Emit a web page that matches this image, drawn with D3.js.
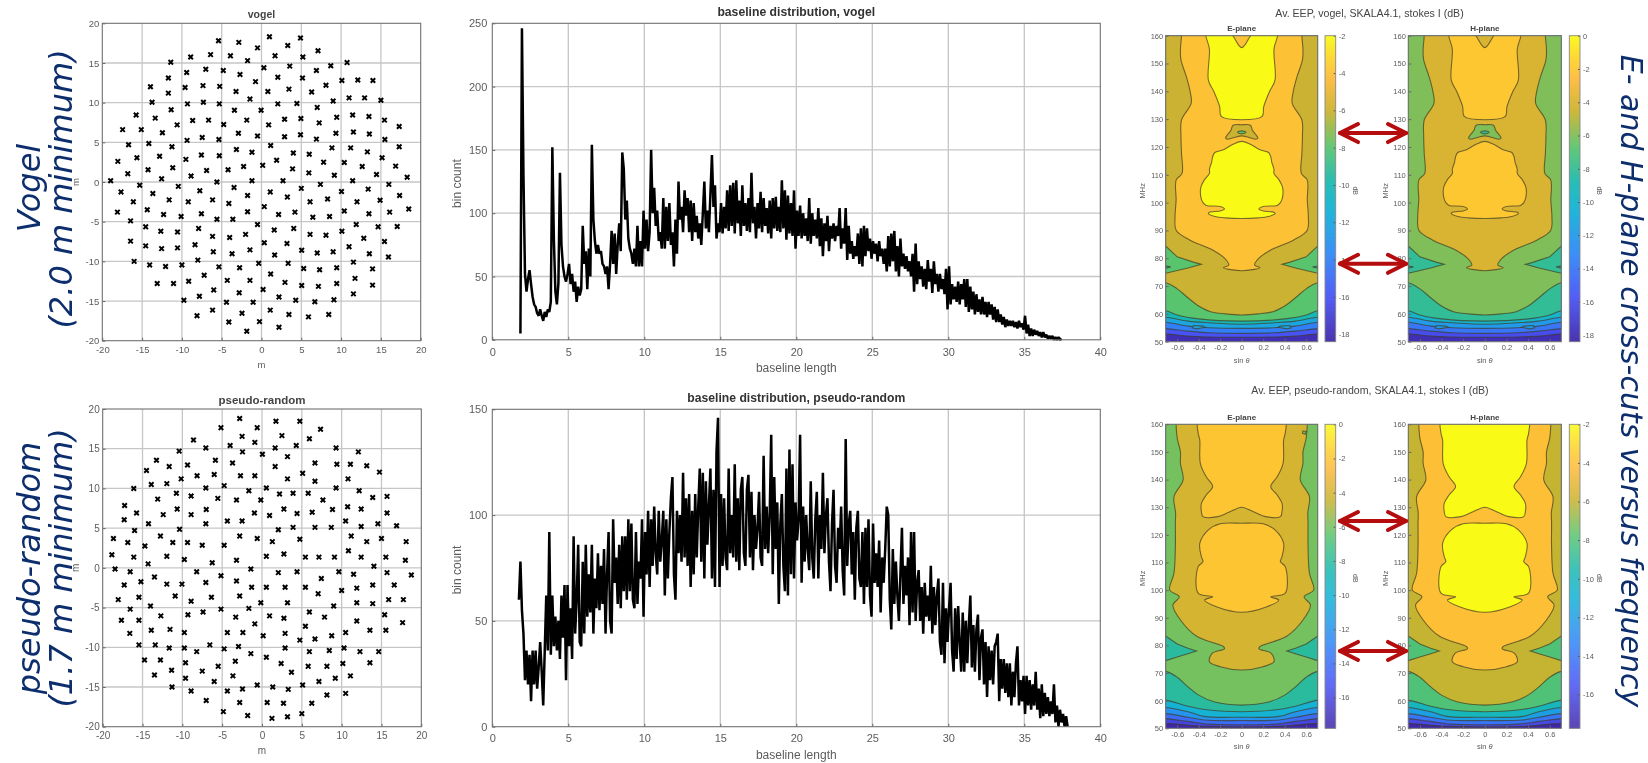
<!DOCTYPE html>
<html><head><meta charset="utf-8">
<script src="https://cdn.jsdelivr.net/npm/d3@7/dist/d3.min.js"></script>
<style>html,body{margin:0;padding:0;background:#fff;overflow:hidden}svg{display:block}</style>
</head><body><svg id="c" width="1648" height="763"></svg>
<script>
// ---------- antenna positions (m) ----------
const vogelPositions=[[1,18.3],[4.9,18.15],[-5.4,17.8],[-2.85,17.6],[3.3,17.2],[-0.5,16.9],[7.1,16.55],[-6.4,16.05],[-3.9,15.9],[-8.9,15.75],[1.7,15.9],[5.2,15.75],[-11.4,15.1],[-1.75,15.3],[10.75,15.05],[8.7,14.65],[3.55,14.6],[0.3,14.4],[-7,14.2],[-4.8,14.05],[6.9,14.05],[-9.4,13.8],[-2.7,13.55],[-11.7,13.1],[2.05,13.2],[5.15,13.1],[10.1,12.8],[12.1,12.85],[14,12.8],[-0.75,12.65],[8.1,12.2],[-7.35,12.15],[-5.25,12.05],[-13.95,12],[-9.6,11.9],[3.45,11.7],[0.8,11.4],[-3.2,11.4],[6.3,11.35],[-11.7,11.2],[11,10.6],[12.95,10.6],[-1.45,10.45],[15,10.3],[9,10.2],[-13.75,10.05],[-7.3,10.05],[4.45,9.9],[-9.3,9.85],[-5.3,9.85],[2.05,9.85],[7,9.4],[-11.35,9.1],[-0.05,9.05],[-3.4,9.05],[-15.75,8.45],[11.45,8.45],[9.45,8.15],[13.5,8.25],[-13.35,8.05],[2.9,7.9],[4.95,8],[-6.65,7.8],[-1.85,7.8],[-8.65,7.75],[15.45,7.8],[7.25,7.45],[-4.75,7.25],[0.9,7.2],[-10.6,7.2],[17.3,7],[-17.45,6.6],[-15.1,6.6],[-12.45,6.2],[11.55,6.3],[9.35,6.15],[-2.9,6.15],[13.55,6.05],[4.9,5.95],[2.9,5.7],[-0.5,5.8],[-7.45,5.6],[6.9,5.4],[-5.35,5.35],[-9.35,5.25],[15.5,5.35],[-16.7,4.7],[-14.15,4.85],[1.15,4.6],[-11.25,4.45],[17.3,4.45],[11.2,4.3],[8.85,4.3],[-3.15,4.1],[-1.2,3.75],[13.3,3.8],[4,3.65],[6,3.5],[-7.55,3.4],[-5.3,3.3],[-12.8,3.25],[-15.65,3.05],[15.15,3.05],[-9.5,2.85],[1.9,2.75],[-18.05,2.6],[7.8,2.5],[10.4,2.45],[0.15,2.1],[-2.25,1.95],[16.85,2],[12.65,1.95],[-11.15,1.8],[-14.25,1.55],[-4.2,1.55],[3.9,1.65],[-6.9,1.45],[5.95,1.15],[14.45,0.95],[-16.8,1.05],[9.15,0.85],[-8.85,0.75],[18.3,0.6],[-12.55,0.4],[2.7,0.15],[-1.2,0.15],[11.45,0.15],[-18.95,0.15],[-5.6,0],[7.4,-0.3],[-15.3,-0.4],[16,-0.3],[-10.45,-0.55],[-3.45,-0.7],[5,-0.8],[13.4,-0.9],[-7.75,-1.1],[10.05,-1.2],[-17.65,-1.25],[1.1,-1.25],[-13.65,-1.45],[-1.75,-1.7],[17.35,-1.7],[3.25,-1.9],[8.3,-2.15],[-11.6,-2.25],[-6.15,-2.25],[14.9,-2.3],[-16.1,-2.5],[-9.2,-2.5],[-4.1,-2.7],[6.1,-2.5],[12,-2.5],[0.35,-3.1],[18.5,-3.4],[-14.35,-3.5],[10.4,-3.65],[-18.1,-3.8],[-7.55,-4],[-1.75,-3.75],[16.1,-3.8],[13.5,-4],[4.2,-3.8],[-12.3,-4.1],[2.15,-4.1],[-10.1,-4.35],[6.45,-4.45],[8.55,-4.35],[-5.6,-4.7],[-3.6,-4.7],[-16.45,-4.9],[-0.5,-5.35],[11.9,-5.35],[-14.55,-5.65],[14.65,-5.65],[17.05,-5.6],[4.05,-5.85],[-7.9,-5.85],[1.6,-6.05],[-12.65,-6.2],[-10.55,-6.3],[10.1,-6.2],[-2,-6.6],[6.1,-6.6],[8.1,-6.7],[-6.15,-6.85],[-4,-7],[12.85,-7.1],[-16.45,-7.45],[15.45,-7.5],[0.35,-7.65],[3.2,-7.75],[-8.35,-7.9],[-14.55,-8.05],[11,-8.15],[-10.55,-8.3],[-12.55,-8.4],[-6.05,-8.8],[-1.45,-8.55],[5.05,-8.6],[9,-8.8],[-3.7,-9.05],[7,-8.95],[13.55,-9.05],[1.65,-9.2],[15.95,-9.45],[-8,-9.85],[-16,-10],[11.55,-10.1],[3.35,-10.25],[-0.35,-10.25],[-14.05,-10.45],[-10,-10.45],[-12.05,-10.65],[-5.35,-10.7],[-2.75,-10.8],[9.45,-10.8],[5.3,-10.9],[13.95,-10.95],[7.3,-11.05],[1.15,-11.6],[-7.2,-11.75],[11.75,-12.15],[-4.3,-12.4],[-1.45,-12.4],[-9.15,-12.5],[2.95,-12.65],[9.45,-12.8],[-13.1,-12.8],[-11.05,-12.8],[13.95,-13],[5.05,-13.05],[7.15,-13.15],[0.2,-13.55],[-6,-13.6],[-2.8,-13.95],[11.55,-14.1],[-7.8,-14.4],[2.2,-14.5],[4.3,-14.9],[9.1,-14.85],[-9.75,-14.9],[-4.4,-15.15],[-1.05,-15.15],[6.7,-15.1],[1.1,-16.15],[-6.15,-16.15],[-2.45,-16.55],[-8.1,-16.85],[3.45,-16.7],[8.45,-16.7],[5.9,-17],[-4.1,-17.65],[-0.25,-17.6],[2.2,-18.3],[-1.85,-18.8]];
const pseudoPositions=[[-2.8,18.8],[1.75,18.45],[4.75,18.45],[-5.15,17.65],[-0.6,17.65],[7.35,17.45],[-2.5,16.55],[2.5,16.65],[-8.6,16.1],[5.95,16.25],[-0.9,15.8],[-4,15.4],[4.3,15.4],[-7.05,15.1],[1.65,15.1],[9.3,15.1],[-10.4,14.7],[12.1,14.6],[-2.45,14.6],[0.05,14.3],[3.2,14],[-5.85,13.55],[-13.25,13.55],[-3.7,13.2],[6.65,13.2],[9.4,13.05],[11.1,13.05],[-9.35,12.95],[-11.65,12.75],[1.65,12.75],[13.15,12.85],[-14.5,12.25],[14.75,12.05],[5.1,11.9],[-6,11.75],[-8.15,11.6],[-2.7,11.6],[-0.9,11.6],[-10.15,11.2],[3.2,11.2],[10.8,11.2],[6.65,10.9],[-11.95,10.6],[-13.9,10.5],[-4.75,10.35],[-16.1,10],[-7.05,10.05],[0.55,10.05],[9.3,10.05],[-1.65,9.7],[12.2,9.7],[-10.75,9.4],[2.2,9.3],[3.9,9.4],[5.8,9.4],[-8.9,9.05],[15.7,9],[13.9,8.85],[-5.55,8.75],[-13.1,8.65],[-3.2,8.55],[-0.15,8.55],[7.65,8.55],[-17.25,7.85],[10.75,7.7],[2.75,7.4],[-10.65,7.4],[-7,7.35],[12.45,7.4],[8.85,7.35],[-15.75,6.9],[-0.95,6.9],[6.3,7],[15.7,6.9],[4.4,6.85],[-12.4,6.7],[-8.9,6.7],[0.95,6.6],[-17.3,6.05],[-4.35,5.9],[-2.5,5.9],[10.5,5.9],[-14.25,5.55],[-7.05,5.55],[14.55,5.55],[16.9,5.3],[6.65,5.1],[8.7,5.1],[3.9,5.1],[12.45,5.2],[-10.35,4.85],[2.05,4.8],[-16,4.7],[-2.8,4],[-12.75,4],[11.2,4],[-18.65,3.7],[-0.6,3.7],[15,3.7],[4.75,3.6],[-11.2,3.2],[-16.85,3.2],[-9.35,3.2],[1.3,3.3],[13.15,3.3],[18.1,3.3],[-7.5,2.85],[-14.7,2.75],[-4.75,2.85],[10.85,2.15],[-18.85,1.65],[2.75,1.75],[-11.95,1.45],[0.55,1.45],[-16.1,1.35],[5.45,1.35],[7.15,1.35],[9.1,1.35],[12.45,1.35],[15.55,1.35],[-9.75,1.05],[-3.2,0.95],[18,0.95],[-6.25,0.65],[-14.3,0.5],[14.05,0.2],[-18.45,-0.15],[-1.4,-0.15],[-16.55,-0.5],[-8.2,-0.5],[2.05,-0.6],[4.4,-0.5],[9.65,-0.5],[15.7,-0.6],[18.75,-0.9],[11.5,-0.8],[-5.15,-1],[-13.5,-1.15],[7.45,-1.35],[-3.2,-1.65],[-15.2,-1.75],[-7.05,-1.85],[-11.95,-2.05],[-10.05,-2.05],[-17.3,-2.15],[13.9,-2.15],[16.6,-2.15],[-1.3,-2.45],[0.55,-2.45],[2.9,-2.45],[5.45,-2.45],[11.9,-2.55],[10,-2.85],[7.05,-3.25],[-2.8,-3.55],[-10.9,-3.55],[-15.45,-3.7],[-6.35,-3.7],[15.9,-4],[17.75,-4],[-18.05,-4],[-8.9,-4.2],[-0.15,-4.4],[3.2,-4.4],[11.9,-4.4],[13.9,-4.5],[9,-4.8],[-14,-4.8],[-1.65,-5.1],[-5.15,-5.2],[-16.55,-5.2],[-7.4,-5.55],[5.95,-5.55],[7.85,-6.2],[-9.3,-5.9],[-12.7,-6.05],[0.95,-6.05],[15.4,-5.9],[-3.3,-6.2],[2.75,-6.35],[-17.65,-6.6],[-15.45,-6.6],[11.9,-6.7],[17.65,-6.9],[-0.9,-7.05],[5.45,-7.35],[-11.55,-7.75],[-13.9,-7.85],[13.55,-7.85],[15.55,-7.85],[-4.35,-8.15],[-2.4,-8.15],[-9.75,-8.15],[2.9,-8.25],[10.5,-8.15],[-16.6,-8.25],[0.15,-8.55],[8.75,-8.55],[6.65,-8.95],[4.75,-9.1],[-15.45,-9.7],[-13.4,-9.7],[-6.55,-9.7],[-2.95,-9.9],[-4.75,-10.2],[-11.65,-10.1],[-9.75,-10.1],[2.9,-10.1],[10.3,-10.1],[-8.2,-10.55],[5.95,-10.55],[8.45,-10.4],[12.3,-10.55],[14.65,-10.55],[-1.4,-10.8],[0.55,-11.25],[-14.75,-11.6],[-12.75,-11.6],[-3.35,-11.75],[-9.6,-11.95],[13.55,-11.95],[2.4,-12.05],[10.15,-12.05],[-5.5,-12.4],[5.8,-12.4],[8.15,-12.4],[-11.35,-12.9],[-7.5,-13],[3.7,-13.15],[-13.5,-13.5],[-3.65,-13.6],[11.1,-13.6],[-9.6,-13.9],[9.2,-13.9],[-6,-14.3],[7.15,-14.3],[-0.6,-14.75],[5.1,-14.75],[1.35,-15],[-11.3,-15],[-2.45,-15.25],[3.3,-15.3],[-8.9,-15.5],[-4.35,-15.5],[8.15,-16],[10.5,-15.8],[-7,-16.7],[-2.8,-16.95],[0.65,-16.95],[2.7,-17.05],[6.25,-17.05],[-4.85,-18.1],[5,-18.35],[-1.8,-18.6],[3.2,-18.75],[1.25,-18.95]];

// ---------- baseline histograms: bin counts, one per 0.1 m bin ----------
const vogelFirstBin=1.85;
const vogelCounts=[5,246,130,52,38,48,55,44,34,28,26,21,19,24,19,15,22,18,24,22,30,152,80,38,28,45,132,75,58,50,46,52,60,44,52,38,46,30,42,35,40,90,60,70,40,72,50,154,95,78,68,75,68,70,60,58,52,58,40,60,86,60,84,52,75,92,70,148,135,95,110,80,72,68,60,72,58,90,58,78,58,102,72,95,70,85,150,100,120,90,102,78,85,72,112,72,105,78,108,75,85,58,95,68,125,95,105,85,118,98,112,85,110,78,108,85,98,80,92,75,100,125,88,102,85,115,146,105,122,80,
92,85,108,84,105,88,118,86,122,90,124,84,126,92,110,82,122,90,108,86,112,85,132,92,105,80,108,88,117,85,112,90,104,84,110,80,112,88,113,86,105,85,126,88,118,79,114,84,108,82,118,72,102,82,106,80,100,82,96,78,112,76,100,82,95,80,104,74,96,66,92,78,98,70,90,80,92,78,90,82,104,72,88,76,104,63,90,68,78,64,74,66,84,60,88,58,90,66,88,70,80,64,78,68,76,62,78,66,72,60,72,54,82,58,84,62,86,54,74,50,80,58,68,56,66,54,62,50,68,38,76,44,62,48,58,42,56,40,63,46,56,37,62,44,52,38,52,40,48,36,56,24,58,28,44,32,42,30,46,28,44,32,48,26,48,22,42,24,38,20,36,22,32,20,34,20,30,18,30,20,28,16,26,14,24,14,20,12,18,10,16,11,15,11,15,10,14,9,15,10,13,8,19,5,12,3,9,3,8,4,7,3,6,2,6,2,4,1,3,1,3,0,2,0,2,0,1];
const pseudoFirstBin=1.75;
const pseudoCounts=[60,78,55,44,22,36,20,34,12,36,20,36,18,28,40,26,10,36,62,36,92,34,62,38,52,36,50,32,62,42,67,22,67,38,56,32,90,44,60,86,40,38,78,44,86,52,72,54,86,44,70,56,82,55,76,58,84,44,72,92,50,44,98,68,80,58,86,56,90,64,90,60,98,64,96,60,56,92,58,78,70,98,52,92,72,102,66,98,76,104,82,72,102,78,88,102,62,98,70,92,108,118,72,60,102,82,100,78,120,80,108,76,110,66,102,72,110,80,104,122,78,120,70,116,86,104,122,70,112,66,130,146,66,
110,76,108,80,74,122,82,100,80,124,78,108,74,112,118,82,76,112,119,80,111,74,100,84,94,111,80,76,128,84,104,82,100,138,72,118,84,106,58,96,110,76,64,122,62,131,72,124,70,106,88,98,138,68,104,78,100,84,74,116,80,70,98,111,70,100,84,120,82,100,108,78,64,96,112,76,68,94,84,104,74,62,136,76,96,102,72,92,60,94,102,70,66,92,58,94,66,98,62,52,96,68,82,66,88,54,80,68,84,104,100,60,46,84,58,78,62,50,72,94,58,76,62,80,48,92,54,92,50,68,74,50,66,44,68,52,62,50,76,44,66,48,62,70,40,34,68,30,56,40,56,68,36,26,56,32,57,40,26,54,26,50,30,48,62,28,48,26,46,53,22,42,46,20,40,14,38,22,36,20,38,40,44,12,32,18,32,16,30,14,30,10,26,14,30,38,10,22,12,24,6,24,10,22,8,20,10,26,8,18,4,20,5,16,6,14,5,12,6,20,2,10,0,8,2,6,0,5,0];

// ---------- EEP contour outlines: [sin theta, MHz], right half, mirrored about sin theta = 0 ----------
const vogelBands=[
 {db:-16,edge:[[0.707,52.8],[0.5,52],[0.3,51.7],[0,51.6]]},
 {db:-14,edge:[[0.707,54.7],[0.5,53.8],[0.3,53.2],[0,53]]},
 {db:-12,edge:[[0.707,57],[0.5,55.6],[0.3,55],[0,54.8]]},
 {db:-10,edge:[[0.707,58.8],[0.5,57.4],[0.3,56.8],[0,56.3]]},
 {db:-8,edge:[[0.707,61.1],[0.6,59.6],[0.4,58.2],[0,57.4]]},
 {db:-6,edge:[[0.707,71.2],[0.6,69],[0.5,65.8],[0.415,63.2],[0.29,60.8],[0.15,60],[0,59.6]]}];
const vogelSideIslands=[
 {db:-8,ring:[[0.75,84.6],[0.707,84.4],[0.6,80.5],[0.45,78.6],[0.375,77.8],[0.5,76.5],[0.707,74.6],[0.75,74.4]]},
 {db:-10,ring:[[0.72,77.3],[0.66,76.9],[0.72,76.3]]},
 {db:-12,ring:[[0.45,55.8],[0.36,55.6],[0.34,55.2],[0.42,54.6],[0.46,55]]}];
const vogelCore=[
 {db:-4,half:[[0,166],[0.56,166],[0.56,160],[0.57,155],[0.565,151.3],[0.515,145.3],[0.48,140],[0.47,135.7],[0.56,129.7],[0.565,124],[0.56,117.7],[0.555,110.5],[0.61,108.1],[0.61,100.9],[0.62,95],[0.61,90.1],[0.48,86.5],[0.27,83],[0.16,80],[0.12,77.5],[0.17,76.6],[0.1,75.9],[0,75.5]]},
 {db:-2,half:[[0,155.7],[0.12,161.5],[0.33,161.5],[0.3,155],[0.31,144],[0.26,140],[0.205,134.5],[0.19,131],[0,129.8]]},
 {db:-2,half:[[0,122],[0.08,121],[0.17,119],[0.25,118],[0.27,116.5],[0.28,114.5],[0.3,112],[0.3,110.5],[0.35,108],[0.38,105.5],[0.38,102],[0.36,100],[0.33,99],[0.2,98.6],[0.16,97.7],[0.2,97],[0.3,96.5],[0.31,96],[0.25,95],[0.15,94.5],[0,94.3]]},
 {db:-6,half:[[0,128],[0.08,127.8],[0.1,126],[0.15,123.2],[0.13,122.8],[0,124]]},
 {db:-8,half:[[0,125.8],[0.04,125.3],[0,124.7]]}];
const pseudoBands=[
 {db:-16,edge:[[0.707,51.8],[0.4,50.8],[0,50.5]]},
 {db:-14,edge:[[0.707,53.5],[0.5,52.5],[0.3,51.5],[0,51.3]]},
 {db:-12,edge:[[0.707,55.3],[0.5,54],[0.35,53],[0,52.8]]},
 {db:-10,edge:[[0.707,57.5],[0.5,56],[0.35,54.3],[0,54]]},
 {db:-8,edge:[[0.707,60.2],[0.5,58],[0.3,56.6],[0,56]]},
 {db:-6,edge:[[0.707,70.6],[0.6,68.5],[0.5,65],[0.4,62],[0.25,59.5],[0,58.4]]}];
const pseudoSideIslands=[
 {db:-8,ring:[[0.75,83.6],[0.707,83.4],[0.6,80.5],[0.5,79],[0.42,78],[0.5,77],[0.6,75.8],[0.707,74.5],[0.75,74.3]]}];
const pseudoCore=[
 {db:-4,half:[[0,166],[0.61,166],[0.61,160],[0.6,155],[0.57,150],[0.57,145.9],[0.545,139.9],[0.63,133.8],[0.615,128],[0.617,124.2],[0.617,115.7],[0.63,106.1],[0.67,100.1],[0.58,97.6],[0.64,94.6],[0.57,89.2],[0.415,83.2],[0.17,79.6],[0.16,78.8],[0.275,77.1],[0.3,74.1],[0.2,72.3],[0,71.1]]},
 {db:-2,half:[[0,130],[0.1,128.5],[0.14,127.8],[0.22,126.6],[0.36,126.6],[0.375,128.4],[0.375,131.4],[0.33,134.4],[0.27,137.5],[0.33,141],[0.385,145.9],[0.39,154.3],[0.405,156.8],[0.4,162],[0,162]]},
 {db:-2,half:[[0,124.2],[0.2,124],[0.31,121.8],[0.39,116.9],[0.375,112.1],[0.36,110.3],[0.405,108.5],[0.405,98.9],[0.27,97.6],[0.345,96.4],[0.235,94],[0,92]]}];
const pseudoSpecks=[{db:-6,ring:[[0.57,157.6],[0.6,157.4],[0.59,156.4],[0.565,156.8]]}];

// ---------- labels and axis values ----------
const scatterTicks=[-20,-15,-10,-5,0,5,10,15,20];
const baselineXTicks=[0,5,10,15,20,25,30,35,40];
const vogelCountTicks=[0,50,100,150,200,250];
const pseudoCountTicks=[0,50,100,150];
const sinTicks=[-0.6,-0.4,-0.2,0,0.2,0.4,0.6];
const mhzTicks=[50,60,70,80,90,100,110,120,130,140,150,160];
const arrowMHz=[125,78];
const parulaT=[0,0.143,0.286,0.43,0.52,0.634,0.75,0.857,0.93,1];
const parula=["#3e26a8","#4852f4","#2e87f7","#12b1d6","#1ab8b0","#58c46e","#c9b22f","#fdb93a","#fdd62a","#f9fb15"];

const svg=d3.select("#c");
const defs=svg.append("defs");
defs.append("filter").attr("id","soft").attr("x","0").attr("y","0").attr("width","100%").attr("height","100%")
  .attr("filterUnits","userSpaceOnUse").append("feGaussianBlur").attr("stdDeviation",0.45);
const root=svg.append("g").attr("filter","url(#soft)");
root.append("rect").attr("width",1648).attr("height",763).attr("fill","#fff");
const FONT="'Liberation Sans',Arial,sans-serif", GREY="#5c5c5c";
let clipId=0;

function frameAxes(g,x,y,xt,yt,gridC){
  const [x0,x1]=x.range(),[y1,y0]=y.range();
  g.append("g").selectAll("line").data(xt.slice(1,-1)).join("line").attr("x1",d=>x(d)).attr("x2",d=>x(d)).attr("y1",y0).attr("y2",y1).attr("stroke",gridC).attr("stroke-width",1.3);
  g.append("g").selectAll("line").data(yt.slice(1,-1)).join("line").attr("x1",x0).attr("x2",x1).attr("y1",d=>y(d)).attr("y2",d=>y(d)).attr("stroke",gridC).attr("stroke-width",1.3);
}
function finishAxes(g,x,y,xt,yt,fs,xpad,ypad){
  const [x0,x1]=x.range(),[y1,y0]=y.range();
  const ax=g.append("g").attr("transform",`translate(0,${y1})`).call(d3.axisBottom(x).tickValues(xt).tickSize(-3).tickPadding(xpad).tickFormat(d=>String(d)));
  const ay=g.append("g").attr("transform",`translate(${x0},0)`).call(d3.axisLeft(y).tickValues(yt).tickSize(-3).tickPadding(ypad).tickFormat(d=>String(d)));
  [ax,ay].forEach(a=>{a.select(".domain").remove();a.selectAll("line").attr("stroke","#666");a.selectAll("text").attr("fill",GREY).attr("font-size",fs).attr("font-family",FONT);});
  g.append("rect").attr("x",x0).attr("y",y0).attr("width",x1-x0).attr("height",y1-y0).attr("fill","none").attr("stroke","#707070").attr("stroke-width",1.1);
}
function label(g,t,x,y,fs,opt={}){
  return g.append("text").attr("x",x).attr("y",y).attr("text-anchor","middle").attr("dominant-baseline","middle")
    .attr("font-family",FONT).attr("font-size",fs).attr("fill",opt.fill||GREY).attr("font-weight",opt.bold?"bold":null)
    .attr("transform",opt.rot?`rotate(${opt.rot} ${x} ${y})`:null).text(t);
}

function scatterPanel(pts,title,box,tickFs,titleFs){
  const g=root.append("g");
  const x=d3.scaleLinear([-20,20],[box.x0,box.x1]),y=d3.scaleLinear([-20,20],[box.y1,box.y0]);
  frameAxes(g,x,y,scatterTicks,scatterTicks,"#c6c6c6");
  const sym=d3.symbol(d3.symbolX,15);
  g.append("g").selectAll("path").data(pts).join("path").attr("d",sym)
    .attr("transform",d=>`translate(${x(d[0])},${y(d[1])})`).attr("stroke","#000").attr("stroke-width",2).attr("fill","none");
  finishAxes(g,x,y,scatterTicks,scatterTicks,tickFs,5.5,3);
  label(g,title,(box.x0+box.x1)/2,box.y0-8.5,titleFs,{bold:true,fill:"#444"});
  label(g,"m",(box.x0+box.x1)/2,box.y1+24.5,tickFs);
  label(g,"m",box.x0-26,(box.y0+box.y1)/2,tickFs,{rot:-90});
}
function baselinePanel(counts,first,title,yTicks,yMax,box){
  const g=root.append("g");
  const x=d3.scaleLinear([0,40],[box.x0,box.x1]),y=d3.scaleLinear([0,yMax],[box.y1,box.y0]);
  frameAxes(g,x,y,baselineXTicks,yTicks,"#c6c6c6");
  const line=d3.line().x((d,i)=>x(first+i*0.1)).y(d=>y(d));
  g.append("path").datum(counts).attr("d",line).attr("fill","none").attr("stroke","#000").attr("stroke-width",2.5).attr("stroke-linejoin","bevel");
  finishAxes(g,x,y,baselineXTicks,yTicks,11,8,5);
  label(g,title,(box.x0+box.x1)/2,box.y0-10.5,12.2,{bold:true,fill:"#333"});
  label(g,"baseline length",(box.x0+box.x1)/2,box.y1+29,12);
  label(g,"bin count",box.x0-34.5,(box.y0+box.y1)/2+2,12,{rot:-90});
}

function colorScale(domain){
  const ts=parulaT.map(t=>domain[0]+(domain[1]-domain[0])*t);
  return d3.scaleLinear(ts,parula).clamp(true);
}
function contourPanel(name,set,box,cbar){
  const g=root.append("g");
  const x=d3.scaleLinear([-0.707,0.707],[box.x0,box.x1]),y=d3.scaleLinear([50,160],[box.y1,box.y0]);
  const col=colorScale(cbar.domain);
  const id="cl"+(clipId++);
  defs.append("clipPath").attr("id",id).append("rect").attr("x",box.x0).attr("y",box.y0).attr("width",box.x1-box.x0).attr("height",box.y1-box.y0);
  const inner=g.append("g").attr("clip-path",`url(#${id})`);
  const smooth=d3.line().x(d=>x(d[0])).y(d=>y(d[1])).curve(d3.curveCatmullRomClosed.alpha(0.5));
  const sharp=d3.line().x(d=>x(d[0])).y(d=>y(d[1])).curve(d3.curveLinearClosed);
  const poly=(gen,ring,db)=>inner.append("path").attr("d",gen(ring)).attr("fill",col(db)).attr("stroke","#403c24").attr("stroke-opacity",0.7).attr("stroke-width",1.1);
  const mirror=h=>h.concat(h.filter(p=>p[0]!==0).reverse().map(p=>[-p[0],p[1]]));
  inner.append("rect").attr("x",box.x0).attr("y",box.y0).attr("width",box.x1-box.x0).attr("height",box.y1-box.y0).attr("fill",col(-18));
  set.bands.forEach(b=>poly(smooth,mirror([[0,175],[0.95,175],[0.95,b.edge[0][1]+0.2]].concat(b.edge)),b.db));
  set.islands.forEach(b=>{poly(sharp,b.ring,b.db);poly(sharp,b.ring.map(p=>[-p[0],p[1]]),b.db);});
  set.core.forEach(b=>poly(smooth,mirror(b.half),b.db));
  (set.specks||[]).forEach(b=>poly(sharp,b.ring,b.db));
  finishAxes(g,x,y,sinTicks,mhzTicks,7.5,3,2.5);
  label(g,name,(box.x0+box.x1)/2,box.y0-6.5,8,{bold:true,fill:"#444"});
  const xl=label(g,"sin ",(box.x0+box.x1)/2,box.y1+19,7.5);
  xl.append("tspan").attr("font-style","italic").text("\u03b8");
  label(g,"MHz",box.x0-22.5,(box.y0+box.y1)/2+2,7.5,{rot:-90});
  // colour bar
  const cy=d3.scaleLinear(cbar.domain,[box.y1,box.y0]);
  const n=Math.round(box.y1-box.y0);
  g.append("g").selectAll("rect").data(d3.range(n)).join("rect").attr("x",cbar.x0).attr("width",cbar.x1-cbar.x0)
    .attr("y",i=>box.y0+i).attr("height",1.2).attr("fill",i=>col(cy.invert(box.y0+i+0.5)));
  const ab=g.append("g").attr("transform",`translate(${cbar.x1},0)`).call(d3.axisRight(cy).tickValues(cbar.ticks).tickSize(-2).tickPadding(3).tickFormat(d=>String(d)));
  ab.select(".domain").remove();ab.selectAll("line").attr("stroke","#555");ab.selectAll("text").attr("fill",GREY).attr("font-size",7.5).attr("font-family",FONT);
  g.append("rect").attr("x",cbar.x0).attr("y",box.y0).attr("width",cbar.x1-cbar.x0).attr("height",box.y1-box.y0).attr("fill","none").attr("stroke","#888").attr("stroke-width",0.9);
  label(g,"dB",cbar.x1+19,(box.y0+box.y1)/2+2,7,{rot:90});
  return y;
}
function arrows(y,x0,x1){
  const g=root.append("g").attr("fill","none").attr("stroke","#b50a0a").attr("stroke-width",4).attr("stroke-linecap","round").attr("stroke-linejoin","round");
  arrowMHz.forEach(m=>{
    const c=y(m);
    g.append("path").attr("d",d3.line()([[x0,c],[x1,c]]));
    g.append("path").attr("d",d3.line()([[x0+18,c-9],[x0,c],[x0+18,c+9]]));
    g.append("path").attr("d",d3.line()([[x1-18,c-9],[x1,c],[x1-18,c+9]]));
  });
}

scatterPanel(vogelPositions,"vogel",{x0:102.3,x1:420.7,y0:23.3,y1:340.7},9.5,10.5);
scatterPanel(pseudoPositions,"pseudo-random",{x0:102.7,x1:421.3,y0:409,y1:726.7},10,11.5);
baselinePanel(vogelCounts,vogelFirstBin,"baseline distribution, vogel",vogelCountTicks,250,{x0:492.3,x1:1100.3,y0:23.3,y1:339.8});
baselinePanel(pseudoCounts,pseudoFirstBin,"baseline distribution, pseudo-random",pseudoCountTicks,150,{x0:492.3,x1:1100.3,y0:409.3,y1:726.7});

const vogelSet={bands:vogelBands,islands:vogelSideIslands,core:vogelCore};
const pseudoSet={bands:pseudoBands,islands:pseudoSideIslands,core:pseudoCore};
const yA=contourPanel("E-plane",vogelSet,{x0:1165.7,x1:1317.7,y0:35.7,y1:341.7},{x0:1325,x1:1335.7,domain:[-18.4,-2],ticks:[-18,-16,-14,-12,-10,-8,-6,-4,-2]});
contourPanel("H-plane",vogelSet,{x0:1408.3,x1:1561.3,y0:35.7,y1:341.7},{x0:1569.3,x1:1580,domain:[-18.4,0],ticks:[-18,-16,-14,-12,-10,-8,-6,-4,-2,0]});
const yB=contourPanel("E-plane",Object.assign({specks:pseudoSpecks},pseudoSet),{x0:1165.7,x1:1317.7,y0:424.3,y1:728.3},{x0:1325,x1:1335.7,domain:[-17.8,0],ticks:[-16,-14,-12,-10,-8,-6,-4,-2,0]});
contourPanel("H-plane",pseudoSet,{x0:1408.3,x1:1561.3,y0:424.3,y1:728.3},{x0:1569.3,x1:1580,domain:[-17.75,-2],ticks:[-16,-14,-12,-10,-8,-6,-4,-2]});
arrows(yA,1340,1406);
arrows(yB,1340,1406);

label(root,"Av. EEP, vogel, SKALA4.1, stokes I (dB)",1369.5,14.5,10.6,{fill:"#444"});
label(root,"Av. EEP, pseudo-random, SKALA4.1, stokes I (dB)",1370,391.5,10.6,{fill:"#444"});

// ---------- slide captions ----------
const NAVY="#0e2d6d";
function caption(t,x,y,rot,fs){
  root.append("text").attr("transform",`translate(${x},${y}) rotate(${rot})`).attr("text-anchor","middle")
    .attr("font-family","'DejaVu Sans',sans-serif").attr("font-style","italic").attr("font-size",fs).attr("fill",NAVY).text(t);
}
caption("Vogel",40,188,-90,32);
caption("(2.0 m minimum)",72,189,-90,32);
caption("pseudo-random",40,568,-90,32);
caption("(1.7 m minimum)",72,568,-90,32);
caption("E- and H-plane cross-cuts versus frequency",1621,381,90,30);
</script></body></html>
